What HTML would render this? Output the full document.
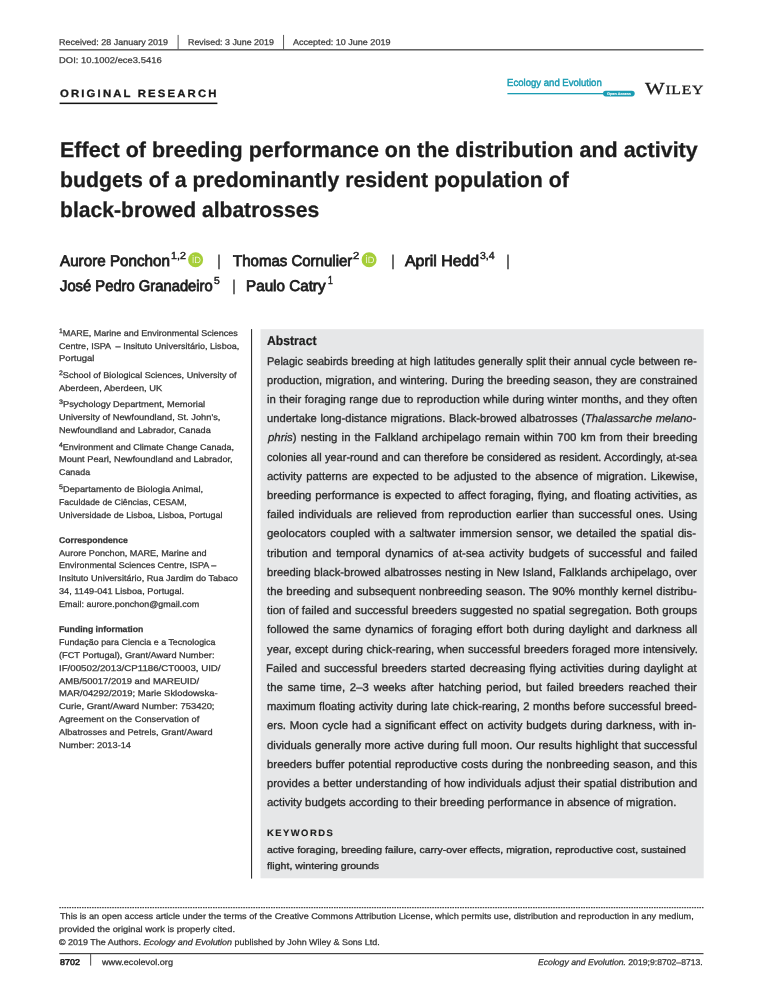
<!DOCTYPE html>
<html><head><meta charset="utf-8"><title>Effect of breeding performance</title><style>
html,body{margin:0;padding:0;background:#fff;overflow:hidden;}
body{width:761px;height:1000px;position:relative;font-family:"Liberation Sans",sans-serif;}
.t{position:absolute;white-space:pre;line-height:1;transform-origin:0 0;}
.j{white-space:normal;text-align:justify;text-align-last:justify;}
.r{position:absolute;}
b{font-weight:700;}
#pg{position:absolute;left:0;top:0;width:761px;height:1000px;will-change:transform;}
</style></head><body>
<div id="pg"><svg class="r" style="left:0;top:0" width="761" height="1000" viewBox="0 0 761 1000">
<rect x="260.5" y="329.2" width="443.2" height="549.1" fill="#e6e7e8"/>
<rect x="251" y="329.1" width="1.1" height="549.5" fill="#333"/>
<rect x="59.3" y="49.1" width="644.2" height="1.4" fill="#555"/>
<rect x="177.6" y="34.9" width="1.05" height="15" fill="#606060"/>
<rect x="283" y="34.9" width="1.05" height="15" fill="#606060"/>
<rect x="59.6" y="102.6" width="157.8" height="1.5" fill="#111"/>
<rect x="507.4" y="93" width="97" height="1.3" fill="#1b9cb3"/>
<rect x="603" y="90.8" width="31.7" height="5.6" rx="2.8" fill="#1b9cb3"/>
<line x1="59.3" y1="907.55" x2="703.5" y2="907.55" stroke="#444" stroke-width="1.25" stroke-dasharray="1.6 0.92"/>
<rect x="59.3" y="953" width="644.2" height="1.2" fill="#444"/>
<rect x="90.1" y="954" width="1.05" height="11.6" fill="#555"/>
<g transform="translate(188.1 252.3)"><circle cx="7.5" cy="7.5" r="7.5" fill="#a6ce39"/><rect x="4.6" y="4.4" width="0.75" height="6.4" fill="#fff" opacity="0.92"/><circle cx="4.98" cy="3.2" r="0.6" fill="#fff" opacity="0.92"/><path d="M6.9 4.4h2.1c2.2 0 3.4 1.5 3.4 3.2s-1.2 3.2-3.4 3.2H6.9z M7.65 5.1v5h1.3c1.8 0 2.65-1.1 2.65-2.5s-.85-2.5-2.65-2.5z" fill="#fff" fill-rule="evenodd" opacity="0.92"/></g>
<g transform="translate(361.6 252.3)"><circle cx="7.5" cy="7.5" r="7.5" fill="#a6ce39"/><rect x="4.6" y="4.4" width="0.75" height="6.4" fill="#fff" opacity="0.92"/><circle cx="4.98" cy="3.2" r="0.6" fill="#fff" opacity="0.92"/><path d="M6.9 4.4h2.1c2.2 0 3.4 1.5 3.4 3.2s-1.2 3.2-3.4 3.2H6.9z M7.65 5.1v5h1.3c1.8 0 2.65-1.1 2.65-2.5s-.85-2.5-2.65-2.5z" fill="#fff" fill-rule="evenodd" opacity="0.92"/></g>
</svg>

<div class="t" id="i0" style="left:59.00px;top:38.00px;font-size:8.4px;color:#3a3a3a;-webkit-text-stroke:0.25px #3a3a3a;transform:scaleX(1.0694) skewX(0.03deg);">Received: 28 January 2019</div>
<div class="t" id="i1" style="left:188.00px;top:38.00px;font-size:8.4px;color:#3a3a3a;-webkit-text-stroke:0.25px #3a3a3a;transform:scaleX(1.0595) skewX(0.03deg);">Revised: 3 June 2019</div>
<div class="t" id="i2" style="left:293.00px;top:38.00px;font-size:8.4px;color:#3a3a3a;-webkit-text-stroke:0.25px #3a3a3a;transform:scaleX(1.0789) skewX(0.03deg);">Accepted: 10 June 2019</div>
<div class="t" id="i3" style="left:59.00px;top:56.00px;font-size:8.4px;color:#3a3a3a;-webkit-text-stroke:0.25px #3a3a3a;transform:scaleX(1.1244) skewX(0.03deg);">DOI: 10.1002/ece3.5416</div>
<div class="t" id="i4" style="left:60.00px;top:88.00px;font-size:10.6px;color:#1a1a1a;font-weight:700;letter-spacing:2.0px;-webkit-text-stroke:0.3px #1a1a1a;transform:scaleX(1.0718) skewX(0.03deg);">ORIGINAL RESEARCH</div>
<div class="t" id="i5" style="left:507.00px;top:78.00px;font-size:10.1px;color:#1b9cb3;-webkit-text-stroke:0.45px #1b9cb3;transform:scaleX(0.9486) skewX(0.03deg);">Ecology and Evolution</div>
<div class="t" id="i6" style="left:607.00px;top:93.00px;font-size:3.6px;color:#e8f6f8;font-weight:700;-webkit-text-stroke:0.15px #e8f6f8;transform:scaleX(1.0588) skewX(0.03deg);">Open Access</div>
<div class="t" id="i7" style="left:645.00px;top:81.00px;font-size:16.8px;color:#1a1a1a;letter-spacing:0.6px;font-family:'Liberation Serif',serif;-webkit-text-stroke:0.3px #1a1a1a;transform:scaleX(1.2383) skewX(0.03deg);">W<span style="font-size:12.7px">ILEY</span></div>
<div class="t" id="i8" style="left:60.00px;top:140.00px;font-size:21.4px;color:#1d1d1d;font-weight:700;-webkit-text-stroke:0.3px #1d1d1d;transform:scaleX(1.0048) skewX(0.03deg);">Effect of breeding performance on the distribution and activity</div>
<div class="t" id="i9" style="left:60.00px;top:170.00px;font-size:21.4px;color:#1d1d1d;font-weight:700;-webkit-text-stroke:0.3px #1d1d1d;transform:scaleX(0.9956) skewX(0.03deg);">budgets of a predominantly resident population of</div>
<div class="t" id="i10" style="left:60.00px;top:200.00px;font-size:21.4px;color:#1d1d1d;font-weight:700;-webkit-text-stroke:0.3px #1d1d1d;transform:scaleX(0.9865) skewX(0.03deg);">black-browed albatrosses</div>
<div class="t" id="i11" style="left:60.00px;top:253.00px;font-size:15.4px;color:#1d1d1d;-webkit-text-stroke:0.8px #1d1d1d;transform:scaleX(0.9885) skewX(0.03deg);">Aurore Ponchon</div>
<div class="t" id="i12" style="left:171.00px;top:251.00px;font-size:10.2px;color:#1d1d1d;-webkit-text-stroke:0.45px #1d1d1d;transform:scaleX(1.0467) skewX(0.03deg);">1,2</div>
<div class="t" id="i13" style="left:217.00px;top:253.00px;font-size:15.4px;color:#1d1d1d;-webkit-text-stroke:0.1px #1d1d1d;transform:skewX(0.03deg);">|</div>
<div class="t" id="i14" style="left:233.00px;top:253.00px;font-size:15.4px;color:#1d1d1d;-webkit-text-stroke:0.8px #1d1d1d;transform:scaleX(0.9756) skewX(0.03deg);">Thomas Cornulier</div>
<div class="t" id="i15" style="left:353.00px;top:251.00px;font-size:10.2px;color:#1d1d1d;-webkit-text-stroke:0.45px #1d1d1d;transform:scaleX(1.0977) skewX(0.03deg);">2</div>
<div class="t" id="i16" style="left:391.00px;top:253.00px;font-size:15.4px;color:#1d1d1d;-webkit-text-stroke:0.1px #1d1d1d;transform:skewX(0.03deg);">|</div>
<div class="t" id="i17" style="left:405.00px;top:253.00px;font-size:15.4px;color:#1d1d1d;-webkit-text-stroke:0.8px #1d1d1d;transform:scaleX(1.0321) skewX(0.03deg);">April Hedd</div>
<div class="t" id="i18" style="left:480.00px;top:251.00px;font-size:10.2px;color:#1d1d1d;-webkit-text-stroke:0.45px #1d1d1d;transform:scaleX(1.0297) skewX(0.03deg);">3,4</div>
<div class="t" id="i19" style="left:506.00px;top:253.00px;font-size:15.4px;color:#1d1d1d;-webkit-text-stroke:0.1px #1d1d1d;transform:skewX(0.03deg);">|</div>
<div class="t" id="i20" style="left:60.00px;top:278.00px;font-size:15.4px;color:#1d1d1d;-webkit-text-stroke:0.8px #1d1d1d;transform:scaleX(0.9597) skewX(0.03deg);">José Pedro Granadeiro</div>
<div class="t" id="i21" style="left:214.00px;top:276.00px;font-size:10.2px;color:#1d1d1d;-webkit-text-stroke:0.45px #1d1d1d;transform:scaleX(1.0177) skewX(0.03deg);">5</div>
<div class="t" id="i22" style="left:232.00px;top:278.00px;font-size:15.4px;color:#1d1d1d;-webkit-text-stroke:0.1px #1d1d1d;transform:skewX(0.03deg);">|</div>
<div class="t" id="i23" style="left:246.00px;top:278.00px;font-size:15.4px;color:#1d1d1d;-webkit-text-stroke:0.8px #1d1d1d;transform:scaleX(0.9892) skewX(0.03deg);">Paulo Catry</div>
<div class="t" id="i24" style="left:328.00px;top:276.00px;font-size:10.2px;color:#1d1d1d;-webkit-text-stroke:0.45px #1d1d1d;transform:scaleX(0.8465) skewX(0.03deg);">1</div>
<div class="t" id="i25" style="left:59.00px;top:329.00px;font-size:8.4px;color:#333;-webkit-text-stroke:0.25px #333;transform:scaleX(1.0741) skewX(0.03deg);"><span style="font-size:6.4px;position:relative;top:-3.3px">1</span>MARE, Marine and Environmental Sciences</div>
<div class="t" id="i26" style="left:59.00px;top:342.00px;font-size:8.4px;color:#333;-webkit-text-stroke:0.25px #333;transform:scaleX(1.0795) skewX(0.03deg);">Centre, ISPA  – Insituto Universitário, Lisboa,</div>
<div class="t" id="i27" style="left:59.00px;top:354.00px;font-size:8.4px;color:#333;-webkit-text-stroke:0.25px #333;transform:scaleX(1.1355) skewX(0.03deg);">Portugal</div>
<div class="t" id="i28" style="left:59.00px;top:371.00px;font-size:8.4px;color:#333;-webkit-text-stroke:0.25px #333;transform:scaleX(1.0852) skewX(0.03deg);"><span style="font-size:6.4px;position:relative;top:-3.3px">2</span>School of Biological Sciences, University of</div>
<div class="t" id="i29" style="left:59.00px;top:384.00px;font-size:8.4px;color:#333;-webkit-text-stroke:0.25px #333;transform:scaleX(1.1076) skewX(0.03deg);">Aberdeen, Aberdeen, UK</div>
<div class="t" id="i30" style="left:59.00px;top:400.00px;font-size:8.4px;color:#333;-webkit-text-stroke:0.25px #333;transform:scaleX(1.1109) skewX(0.03deg);"><span style="font-size:6.4px;position:relative;top:-3.3px">3</span>Psychology Department, Memorial</div>
<div class="t" id="i31" style="left:59.00px;top:413.00px;font-size:8.4px;color:#333;-webkit-text-stroke:0.25px #333;transform:scaleX(1.1097) skewX(0.03deg);">University of Newfoundland, St. John's,</div>
<div class="t" id="i32" style="left:59.00px;top:426.00px;font-size:8.4px;color:#333;-webkit-text-stroke:0.25px #333;transform:scaleX(1.0900) skewX(0.03deg);">Newfoundland and Labrador, Canada</div>
<div class="t" id="i33" style="left:59.00px;top:443.00px;font-size:8.4px;color:#333;-webkit-text-stroke:0.25px #333;transform:scaleX(1.0724) skewX(0.03deg);"><span style="font-size:6.4px;position:relative;top:-3.3px">4</span>Environment and Climate Change Canada,</div>
<div class="t" id="i34" style="left:59.00px;top:455.00px;font-size:8.4px;color:#333;-webkit-text-stroke:0.25px #333;transform:scaleX(1.1035) skewX(0.03deg);">Mount Pearl, Newfoundland and Labrador,</div>
<div class="t" id="i35" style="left:59.00px;top:468.00px;font-size:8.4px;color:#333;-webkit-text-stroke:0.25px #333;transform:scaleX(1.0611) skewX(0.03deg);">Canada</div>
<div class="t" id="i36" style="left:59.00px;top:485.00px;font-size:8.4px;color:#333;-webkit-text-stroke:0.25px #333;transform:scaleX(1.1063) skewX(0.03deg);"><span style="font-size:6.4px;position:relative;top:-3.3px">5</span>Departamento de Biologia Animal,</div>
<div class="t" id="i37" style="left:59.00px;top:498.00px;font-size:8.4px;color:#333;-webkit-text-stroke:0.25px #333;transform:scaleX(1.0468) skewX(0.03deg);">Faculdade de Ciências, CESAM,</div>
<div class="t" id="i38" style="left:59.00px;top:511.00px;font-size:8.4px;color:#333;-webkit-text-stroke:0.25px #333;transform:scaleX(1.0703) skewX(0.03deg);">Universidade de Lisboa, Lisboa, Portugal</div>
<div class="t" id="i39" style="left:59.00px;top:536.00px;font-size:8.4px;color:#333;-webkit-text-stroke:0.25px #333;transform:scaleX(1.0334) skewX(0.03deg);"><b>Correspondence</b></div>
<div class="t" id="i40" style="left:59.00px;top:549.00px;font-size:8.4px;color:#333;-webkit-text-stroke:0.25px #333;transform:scaleX(1.0863) skewX(0.03deg);">Aurore Ponchon, MARE, Marine and</div>
<div class="t" id="i41" style="left:59.00px;top:561.00px;font-size:8.4px;color:#333;-webkit-text-stroke:0.25px #333;transform:scaleX(1.0699) skewX(0.03deg);">Environmental Sciences Centre, ISPA –</div>
<div class="t" id="i42" style="left:59.00px;top:574.00px;font-size:8.4px;color:#333;-webkit-text-stroke:0.25px #333;transform:scaleX(1.0897) skewX(0.03deg);">Insituto Universitário, Rua Jardim do Tabaco</div>
<div class="t" id="i43" style="left:59.00px;top:587.00px;font-size:8.4px;color:#333;-webkit-text-stroke:0.25px #333;transform:scaleX(1.0984) skewX(0.03deg);">34, 1149-041 Lisboa, Portugal.</div>
<div class="t" id="i44" style="left:59.00px;top:600.00px;font-size:8.4px;color:#333;-webkit-text-stroke:0.25px #333;transform:scaleX(1.0707) skewX(0.03deg);">Email: aurore.ponchon@gmail.com</div>
<div class="t" id="i45" style="left:59.00px;top:625.00px;font-size:8.4px;color:#333;-webkit-text-stroke:0.25px #333;transform:scaleX(1.0359) skewX(0.03deg);"><b>Funding information</b></div>
<div class="t" id="i46" style="left:59.00px;top:638.00px;font-size:8.4px;color:#333;-webkit-text-stroke:0.25px #333;transform:scaleX(1.0649) skewX(0.03deg);">Fundação para Ciencia e a Tecnologica</div>
<div class="t" id="i47" style="left:59.00px;top:651.00px;font-size:8.4px;color:#333;-webkit-text-stroke:0.25px #333;transform:scaleX(1.1010) skewX(0.03deg);">(FCT Portugal), Grant/Award Number:</div>
<div class="t" id="i48" style="left:59.00px;top:664.00px;font-size:8.4px;color:#333;-webkit-text-stroke:0.25px #333;transform:scaleX(1.1580) skewX(0.03deg);">IF/00502/2013/CP1186/CT0003, UID/</div>
<div class="t" id="i49" style="left:59.00px;top:677.00px;font-size:8.4px;color:#333;-webkit-text-stroke:0.25px #333;transform:scaleX(1.1269) skewX(0.03deg);">AMB/50017/2019 and MAREUID/</div>
<div class="t" id="i50" style="left:59.00px;top:689.00px;font-size:8.4px;color:#333;-webkit-text-stroke:0.25px #333;transform:scaleX(1.1286) skewX(0.03deg);">MAR/04292/2019; Marie Sklodowska-</div>
<div class="t" id="i51" style="left:59.00px;top:702.00px;font-size:8.4px;color:#333;-webkit-text-stroke:0.25px #333;transform:scaleX(1.1219) skewX(0.03deg);">Curie, Grant/Award Number: 753420;</div>
<div class="t" id="i52" style="left:59.00px;top:715.00px;font-size:8.4px;color:#333;-webkit-text-stroke:0.25px #333;transform:scaleX(1.0991) skewX(0.03deg);">Agreement on the Conservation of</div>
<div class="t" id="i53" style="left:59.00px;top:728.00px;font-size:8.4px;color:#333;-webkit-text-stroke:0.25px #333;transform:scaleX(1.0970) skewX(0.03deg);">Albatrosses and Petrels, Grant/Award</div>
<div class="t" id="i54" style="left:59.00px;top:741.00px;font-size:8.4px;color:#333;-webkit-text-stroke:0.25px #333;transform:scaleX(1.1047) skewX(0.03deg);">Number: 2013-14</div>
<div class="t" id="i55" style="left:267.00px;top:335.00px;font-size:12.9px;color:#1d1d1d;font-weight:700;-webkit-text-stroke:0.2px #1d1d1d;transform:scaleX(0.9463) skewX(0.03deg);">Abstract</div>
<div class="t j" id="i56" style="left:267.00px;top:356.00px;font-size:11.2px;color:#2a2a2a;-webkit-text-stroke:0.3px #2a2a2a;transform:scaleX(0.9815) skewX(0.03deg);width:437.94px;">Pelagic seabirds breeding at high latitudes generally split their annual cycle between re-</div>
<div class="t j" id="i57" style="left:267.00px;top:375.00px;font-size:11.2px;color:#2a2a2a;-webkit-text-stroke:0.3px #2a2a2a;transform:scaleX(0.9968) skewX(0.03deg);width:431.86px;">production, migration, and wintering. During the breeding season, they are constrained</div>
<div class="t j" id="i58" style="left:267.00px;top:394.00px;font-size:11.2px;color:#2a2a2a;-webkit-text-stroke:0.3px #2a2a2a;transform:scaleX(1.0145) skewX(0.03deg);width:424.24px;">in their foraging range due to reproduction while during winter months, and they often</div>
<div class="t j" id="i59" style="left:267.00px;top:413.00px;font-size:11.2px;color:#2a2a2a;-webkit-text-stroke:0.3px #2a2a2a;transform:scaleX(1.0002) skewX(0.03deg);width:429.07px;">undertake long-distance migrations. Black-browed albatrosses (<i>Thalassarche melano-</i></div>
<div class="t j" id="i60" style="left:268.00px;top:432.00px;font-size:11.2px;color:#2a2a2a;-webkit-text-stroke:0.3px #2a2a2a;transform:scaleX(1.0200) skewX(0.03deg);width:421.12px;"><i>phris</i>) nesting in the Falkland archipelago remain within 700 km from their breeding</div>
<div class="t j" id="i61" style="left:267.00px;top:452.00px;font-size:11.2px;color:#2a2a2a;-webkit-text-stroke:0.3px #2a2a2a;transform:scaleX(0.9831) skewX(0.03deg);width:437.45px;">colonies all year-round and can therefore be considered as resident. Accordingly, at-sea</div>
<div class="t j" id="i62" style="left:267.00px;top:471.00px;font-size:11.2px;color:#2a2a2a;-webkit-text-stroke:0.3px #2a2a2a;transform:scaleX(1.0200) skewX(0.03deg);width:422.33px;">activity patterns are expected to be adjusted to the absence of migration. Likewise,</div>
<div class="t j" id="i63" style="left:267.00px;top:490.00px;font-size:11.2px;color:#2a2a2a;-webkit-text-stroke:0.3px #2a2a2a;transform:scaleX(1.0200) skewX(0.03deg);width:421.76px;">breeding performance is expected to affect foraging, flying, and floating activities, as</div>
<div class="t j" id="i64" style="left:267.00px;top:509.00px;font-size:11.2px;color:#2a2a2a;-webkit-text-stroke:0.3px #2a2a2a;transform:scaleX(1.0200) skewX(0.03deg);width:421.95px;">failed individuals are relieved from reproduction earlier than successful ones. Using</div>
<div class="t j" id="i65" style="left:267.00px;top:528.00px;font-size:11.2px;color:#2a2a2a;-webkit-text-stroke:0.3px #2a2a2a;transform:scaleX(1.0200) skewX(0.03deg);width:420.71px;">geolocators coupled with a saltwater immersion sensor, we detailed the spatial dis-</div>
<div class="t j" id="i66" style="left:267.00px;top:548.00px;font-size:11.2px;color:#2a2a2a;-webkit-text-stroke:0.3px #2a2a2a;transform:scaleX(1.0200) skewX(0.03deg);width:422.10px;">tribution and temporal dynamics of at-sea activity budgets of successful and failed</div>
<div class="t j" id="i67" style="left:267.00px;top:567.00px;font-size:11.2px;color:#2a2a2a;-webkit-text-stroke:0.3px #2a2a2a;transform:scaleX(1.0027) skewX(0.03deg);width:428.64px;">breeding black-browed albatrosses nesting in New Island, Falklands archipelago, over</div>
<div class="t j" id="i68" style="left:267.00px;top:586.00px;font-size:11.2px;color:#2a2a2a;-webkit-text-stroke:0.3px #2a2a2a;transform:scaleX(1.0168) skewX(0.03deg);width:422.69px;">the breeding and subsequent nonbreeding season. The 90% monthly kernel distribu-</div>
<div class="t j" id="i69" style="left:267.00px;top:605.00px;font-size:11.2px;color:#2a2a2a;-webkit-text-stroke:0.3px #2a2a2a;transform:scaleX(1.0200) skewX(0.03deg);width:421.77px;">tion of failed and successful breeders suggested no spatial segregation. Both groups</div>
<div class="t j" id="i70" style="left:267.00px;top:624.00px;font-size:11.2px;color:#2a2a2a;-webkit-text-stroke:0.3px #2a2a2a;transform:scaleX(1.0200) skewX(0.03deg);width:421.96px;">followed the same dynamics of foraging effort both during daylight and darkness all</div>
<div class="t j" id="i71" style="left:267.00px;top:644.00px;font-size:11.2px;color:#2a2a2a;-webkit-text-stroke:0.3px #2a2a2a;transform:scaleX(1.0062) skewX(0.03deg);width:428.14px;">year, except during chick-rearing, when successful breeders foraged more intensively.</div>
<div class="t j" id="i72" style="left:266.00px;top:663.00px;font-size:11.2px;color:#2a2a2a;-webkit-text-stroke:0.3px #2a2a2a;transform:scaleX(1.0200) skewX(0.03deg);width:422.35px;">Failed and successful breeders started decreasing flying activities during daylight at</div>
<div class="t j" id="i73" style="left:267.00px;top:682.00px;font-size:11.2px;color:#2a2a2a;-webkit-text-stroke:0.3px #2a2a2a;transform:scaleX(1.0200) skewX(0.03deg);width:421.36px;">the same time, 2–3 weeks after hatching period, but failed breeders reached their</div>
<div class="t j" id="i74" style="left:267.00px;top:701.00px;font-size:11.2px;color:#2a2a2a;-webkit-text-stroke:0.3px #2a2a2a;transform:scaleX(1.0017) skewX(0.03deg);width:429.07px;">maximum floating activity during late chick-rearing, 2 months before successful breed-</div>
<div class="t j" id="i75" style="left:267.00px;top:720.00px;font-size:11.2px;color:#2a2a2a;-webkit-text-stroke:0.3px #2a2a2a;transform:scaleX(1.0200) skewX(0.03deg);width:420.71px;">ers. Moon cycle had a significant effect on activity budgets during darkness, with in-</div>
<div class="t j" id="i76" style="left:267.00px;top:740.00px;font-size:11.2px;color:#2a2a2a;-webkit-text-stroke:0.3px #2a2a2a;transform:scaleX(1.0200) skewX(0.03deg);width:421.96px;">dividuals generally more active during full moon. Our results highlight that successful</div>
<div class="t j" id="i77" style="left:267.00px;top:759.00px;font-size:11.2px;color:#2a2a2a;-webkit-text-stroke:0.3px #2a2a2a;transform:scaleX(1.0200) skewX(0.03deg);width:421.77px;">breeders buffer potential reproductive costs during the nonbreeding season, and this</div>
<div class="t j" id="i78" style="left:267.00px;top:778.00px;font-size:11.2px;color:#2a2a2a;-webkit-text-stroke:0.3px #2a2a2a;transform:scaleX(1.0145) skewX(0.03deg);width:424.29px;">provides a better understanding of how individuals adjust their spatial distribution and</div>
<div class="t" id="i79" style="left:267.00px;top:797.00px;font-size:11.2px;color:#2a2a2a;-webkit-text-stroke:0.3px #2a2a2a;transform:scaleX(1.0220) skewX(0.03deg);">activity budgets according to their breeding performance in absence of migration.</div>
<div class="t" id="i80" style="left:267.00px;top:829.00px;font-size:9.2px;color:#1d1d1d;font-weight:700;letter-spacing:1.4px;-webkit-text-stroke:0.15px #1d1d1d;transform:scaleX(1.0282) skewX(0.03deg);">KEYWORDS</div>
<div class="t" id="i81" style="left:267.00px;top:846.00px;font-size:9.3px;color:#2a2a2a;-webkit-text-stroke:0.3px #2a2a2a;transform:scaleX(1.1297) skewX(0.03deg);">active foraging, breeding failure, carry-over effects, migration, reproductive cost, sustained</div>
<div class="t" id="i82" style="left:267.00px;top:862.00px;font-size:9.3px;color:#2a2a2a;-webkit-text-stroke:0.3px #2a2a2a;transform:scaleX(1.1419) skewX(0.03deg);">flight, wintering grounds</div>
<div class="t" id="i83" style="left:60.00px;top:912.00px;font-size:8.3px;color:#333;-webkit-text-stroke:0.25px #333;transform:scaleX(1.1029) skewX(0.03deg);">This is an open access article under the terms of the Creative Commons Attribution License, which permits use, distribution and reproduction in any medium,</div>
<div class="t" id="i84" style="left:59.00px;top:925.00px;font-size:8.3px;color:#333;-webkit-text-stroke:0.25px #333;transform:scaleX(1.1191) skewX(0.03deg);">provided the original work is properly cited.</div>
<div class="t" id="i85" style="left:59.00px;top:938.00px;font-size:8.3px;color:#333;-webkit-text-stroke:0.25px #333;transform:scaleX(1.0781) skewX(0.03deg);">© 2019 The Authors. <i>Ecology and Evolution</i> published by John Wiley &amp; Sons Ltd.</div>
<div class="t" id="i86" style="left:60.00px;top:958.00px;font-size:8.4px;color:#222;-webkit-text-stroke:0.55px #222;transform:scaleX(1.0645) skewX(0.03deg);">8702</div>
<div class="t" id="i87" style="left:102.00px;top:958.00px;font-size:8.3px;color:#333;-webkit-text-stroke:0.25px #333;transform:scaleX(1.0990) skewX(0.03deg);">www.ecolevol.org</div>
<div class="t" id="i88" style="left:538.00px;top:958.00px;font-size:8.3px;color:#333;-webkit-text-stroke:0.25px #333;transform:scaleX(1.0412) skewX(0.03deg);"><i>Ecology and Evolution.</i> 2019;9:8702–8713.</div>
</div></body></html>
